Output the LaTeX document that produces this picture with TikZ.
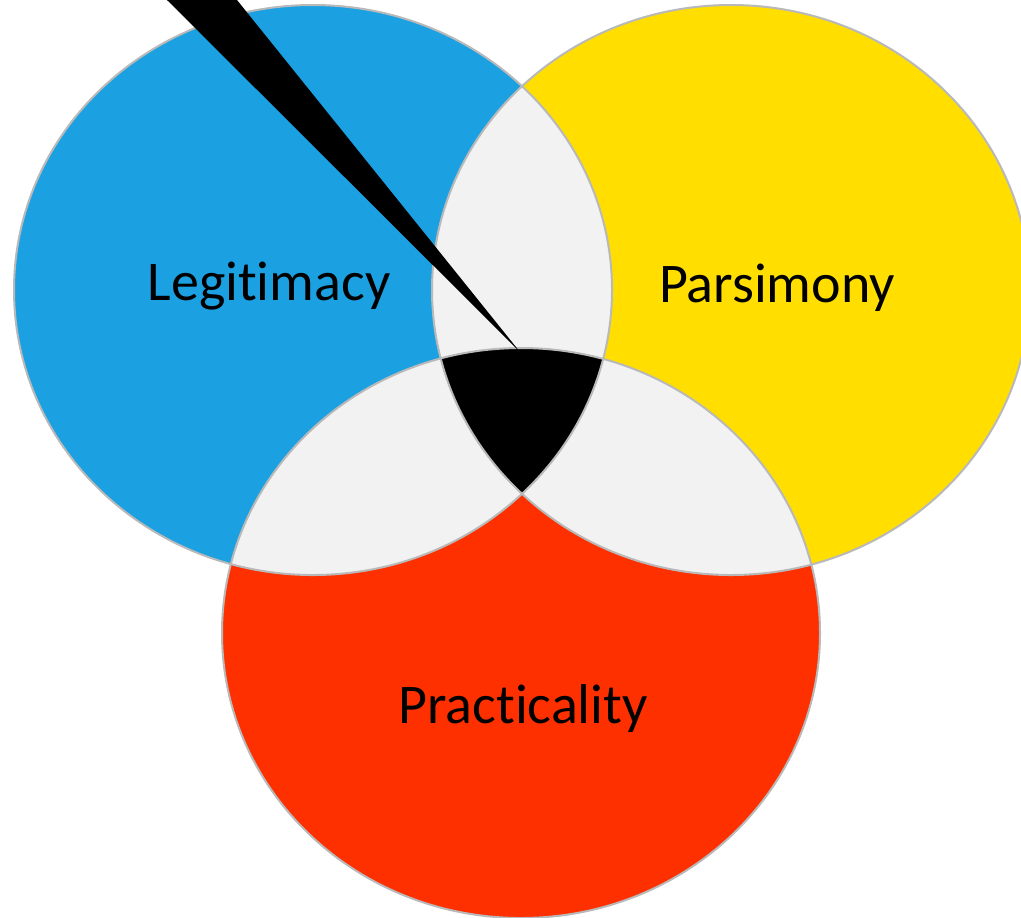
\documentclass[tikz,border=0pt]{standalone}
\usepackage{fontspec}
\setmainfont{Carlito}[Ligatures=NoCommon]
\usepackage{tikz}
\definecolor{legblue}{RGB}{27,161,226}
\definecolor{paryellow}{RGB}{255,222,0}
\definecolor{prared}{RGB}{255,48,0}
\definecolor{lensgray}{RGB}{242,242,242}
\definecolor{rimgray}{RGB}{185,185,185}
\tikzstyle{rim}=[draw=rimgray, line width=1pt]
\tikzstyle{setlabel}=[font=\fontsize{28}{34}\selectfont, anchor=base, inner sep=0pt]
\tikzset{ringsize/.style={x radius=299, y radius=285}}

\begin{document}
\begin{tikzpicture}[x=0.5pt, y=-0.5pt]
\useasboundingbox (0,0) rectangle (1021,917);
\coordinate (Leg) at (313,290);
\coordinate (Par) at (731,290);
\coordinate (Pra) at (521,633);
% the three sets
\fill[legblue] (Leg) ellipse [ringsize];
\fill[paryellow] (Par) ellipse [ringsize];
\fill[prared] (Pra) ellipse [ringsize];
% overlaps of two
\begin{scope}
\clip (Leg) ellipse [ringsize];
\fill[lensgray] (Par) ellipse [ringsize];
\fill[lensgray] (Pra) ellipse [ringsize];
\end{scope}
\begin{scope}
\clip (Par) ellipse [ringsize];
\fill[lensgray] (Pra) ellipse [ringsize];
\end{scope}
% overlap of all three
\begin{scope}
\clip (Leg) ellipse [ringsize];
\clip (Par) ellipse [ringsize];
\fill[black] (Pra) ellipse [ringsize];
\end{scope}
\foreach \c in {Leg,Par,Pra}
  \draw[rim] (\c) ellipse [ringsize];
% pointer
\coordinate (tip) at (520,352);
\coordinate (base1) at (167,0);
\coordinate (base2) at (237,0);
\fill[black] (base1) -- (tip) -- (base2) -- cycle;
\node[setlabel] (legitimacy) at (269,300) {Legitimacy};
\node[setlabel] (parsimony) at (777,302) {Parsimony};
\node[setlabel] (practicality) at (523,723) {Practicality};
\end{tikzpicture}
\end{document}
